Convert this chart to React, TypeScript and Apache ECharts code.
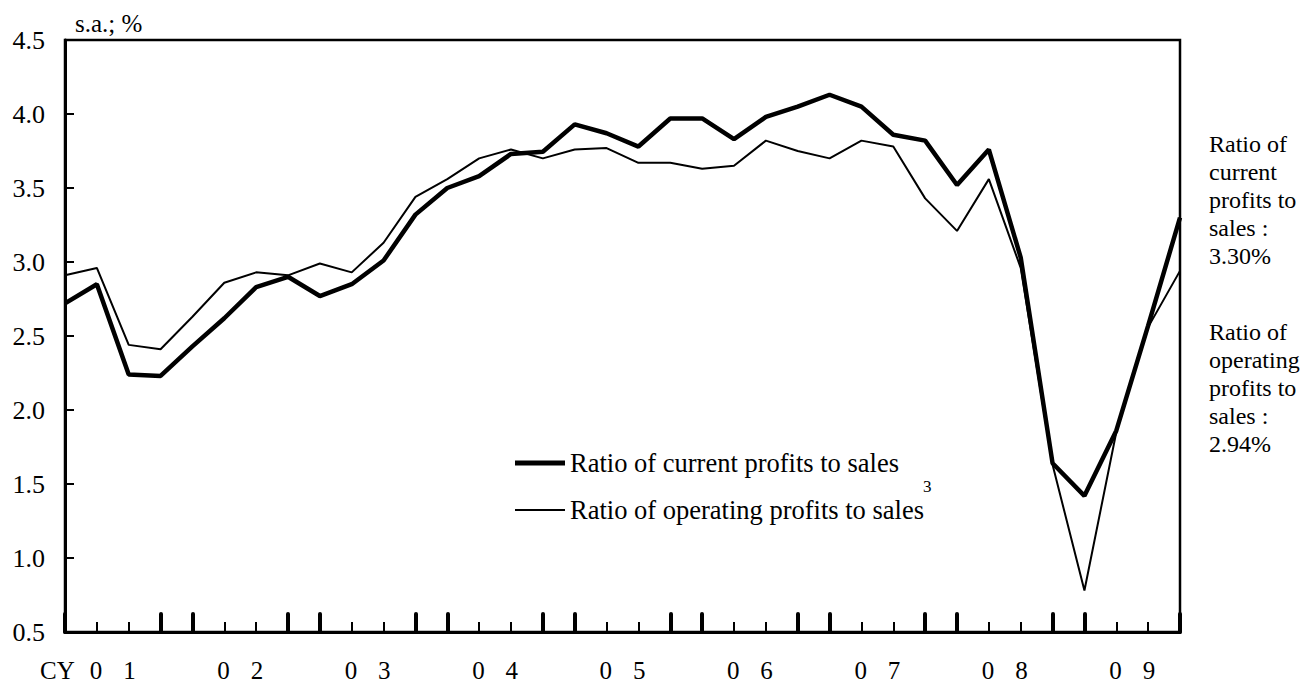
import React, { useEffect, useRef } from "react";
import * as echarts from "echarts";

const FONT = "'Liberation Serif', 'Times New Roman', serif";

const quarters: string[] = [
  "2001Q1", "2001Q2", "2001Q3", "2001Q4",
  "2002Q1", "2002Q2", "2002Q3", "2002Q4",
  "2003Q1", "2003Q2", "2003Q3", "2003Q4",
  "2004Q1", "2004Q2", "2004Q3", "2004Q4",
  "2005Q1", "2005Q2", "2005Q3", "2005Q4",
  "2006Q1", "2006Q2", "2006Q3", "2006Q4",
  "2007Q1", "2007Q2", "2007Q3", "2007Q4",
  "2008Q1", "2008Q2", "2008Q3", "2008Q4",
  "2009Q1", "2009Q2", "2009Q3", "2009Q4",
];

const years: string[] = ["01", "02", "03", "04", "05", "06", "07", "08", "09"];

const currentRatio: number[] = [
  2.72, 2.85, 2.24, 2.23, 2.43, 2.62, 2.83, 2.9, 2.77, 2.85, 3.01, 3.32,
  3.5, 3.58, 3.73, 3.745, 3.93, 3.87, 3.78, 3.97, 3.97, 3.83, 3.98, 4.05,
  4.13, 4.05, 3.86, 3.82, 3.52, 3.76, 3.03, 1.64, 1.42, 1.86, 2.57, 3.3,
];

const operatingRatio: number[] = [
  2.91, 2.96, 2.44, 2.41, 2.63, 2.86, 2.93, 2.91, 2.99, 2.93, 3.13, 3.44,
  3.56, 3.7, 3.76, 3.7, 3.76, 3.77, 3.67, 3.67, 3.63, 3.65, 3.82, 3.75,
  3.7, 3.82, 3.78, 3.43, 3.21, 3.56, 2.96, 1.63, 0.78, 1.85, 2.56, 2.94,
];

const currentName = "Ratio of current profits to sales";
const operatingName = "Ratio of operating profits to sales";

// first & last quarter of each year get long ticks, middle quarters short ones
const longTickAt = quarters.map((_, i) => i).filter((i) => i % 4 === 0 || i % 4 === 3);
const shortTickAt = quarters.map((_, i) => i).filter((i) => i % 4 === 1 || i % 4 === 2);
const yearCenters = years.map((_, k) => k * 4 + 1.5);
const spacedYear = (y: string) => y[0] + "\u2002\u2004" + y[1];

const GRID = { left: 65, right: 121, top: 40, bottom: 51 };
const W = 1301;
const H = 683;

export default function App() {
  const ref = useRef<HTMLDivElement>(null);
  useEffect(() => {
    const chart = echarts.init(ref.current!, null, { renderer: "svg" });
    const lastCur = currentRatio[currentRatio.length - 1].toFixed(2);
    const lastOp = operatingRatio[operatingRatio.length - 1].toFixed(2);
    const plotH = H - GRID.top - GRID.bottom;
    const legendBase = {
      orient: "vertical",
      left: 515,
      padding: 0,
      itemWidth: 50,
      icon: "rect",
      itemStyle: { color: "#000" },
      textStyle: { fontSize: 26.5, fontFamily: FONT, color: "#000", lineHeight: 26 },
    };
    chart.setOption({
      animation: false,
      backgroundColor: "#ffffff",
      textStyle: { fontFamily: FONT, color: "#000" },
      grid: {
        ...GRID,
        show: true,
        borderColor: "#000",
        borderWidth: 2.5,
        backgroundColor: "transparent",
      },
      legend: [
        { ...legendBase, top: 449.5, itemHeight: 5, data: [currentName] },
        { ...legendBase, top: 496.5, itemHeight: 2, data: [operatingName] },
      ],
      xAxis: [
        {
          type: "category",
          data: quarters,
          boundaryGap: false,
          position: "bottom",
          axisLine: { show: true, lineStyle: { color: "#000", width: 3 } },
          axisTick: { show: false },
          axisLabel: { show: false },
          splitLine: { show: false },
        },
        {
          // short quarter ticks: a top-side axis shifted onto the bottom edge, ticks pointing up
          type: "value",
          min: 0,
          max: quarters.length - 1,
          position: "top",
          offset: -plotH,
          axisLine: { show: false },
          axisTick: {
            show: true,
            inside: false,
            length: 10,
            customValues: shortTickAt,
            lineStyle: { color: "#000", width: 2 },
          },
          axisLabel: { show: false },
          splitLine: { show: false },
        },
        {
          type: "value",
          min: 0,
          max: quarters.length - 1,
          position: "bottom",
          axisLine: { show: false },
          axisTick: {
            show: true,
            inside: true,
            length: 18,
            customValues: longTickAt,
            lineStyle: { color: "#000", width: 4, cap: "round" },
          },
          splitLine: { show: false },
          axisLabel: {
            show: true,
            customValues: yearCenters,
            margin: 28,
            fontSize: 25,
            lineHeight: 20,
            fontFamily: FONT,
            color: "#000",
            formatter: (v: number) => {
              const k = Math.round((v - 1.5) / 4);
              return years[k] ? spacedYear(years[k]) : "";
            },
          },
        },
      ],
      yAxis: {
        type: "value",
        min: 0.5,
        max: 4.5,
        interval: 0.5,
        axisLine: { show: true, lineStyle: { color: "#000", width: 3 } },
        axisTick: { show: true, inside: true, length: 9, lineStyle: { color: "#000", width: 2 } },
        axisLabel: {
          fontSize: 26,
          fontFamily: FONT,
          color: "#000",
          margin: 20,
          formatter: (v: number) => v.toFixed(1),
        },
        splitLine: { show: false },
      },
      series: [
        {
          name: operatingName,
          type: "line",
          xAxisIndex: 0,
          data: operatingRatio,
          symbol: "none",
          lineStyle: { color: "#000", width: 2 },
          itemStyle: { color: "#000" },
          z: 2,
        },
        {
          name: currentName,
          type: "line",
          xAxisIndex: 0,
          data: currentRatio,
          symbol: "none",
          lineStyle: { color: "#000", width: 4.5 },
          itemStyle: { color: "#000" },
          z: 3,
        },
      ],
      graphic: [
        {
          type: "text",
          x: 75,
          y: 23,
          style: { text: "s.a.; %", font: `25px ${FONT}`, fill: "#000", textVerticalAlign: "middle" },
        },
        {
          type: "text",
          x: 40,
          y: 670,
          style: {
            text: "CY",
            font: `25px ${FONT}`,
            lineHeight: 20,
            fill: "#000",
            textVerticalAlign: "middle",
          },
        },
        {
          type: "text",
          x: 1209,
          y: 130,
          style: {
            text: `Ratio of\ncurrent\nprofits to\nsales :\n${lastCur}%`,
            font: `24px ${FONT}`,
            lineHeight: 28,
            fill: "#000",
            textVerticalAlign: "top",
          },
        },
        {
          type: "text",
          x: 1209,
          y: 318,
          style: {
            text: `Ratio of\noperating\nprofits to\nsales :\n${lastOp}%`,
            font: `24px ${FONT}`,
            lineHeight: 28,
            fill: "#000",
            textVerticalAlign: "top",
          },
        },
        {
          type: "text",
          x: 923,
          y: 486,
          style: { text: "3", font: `17px ${FONT}`, fill: "#000", textAlign: "left", textVerticalAlign: "middle" },
        },
      ],
    });
    return () => chart.dispose();
  }, []);
  return (
    <div
      ref={ref}
      style={{ position: "fixed", left: 0, top: 0, width: W, height: H, background: "#fff" }}
    />
  );
}
